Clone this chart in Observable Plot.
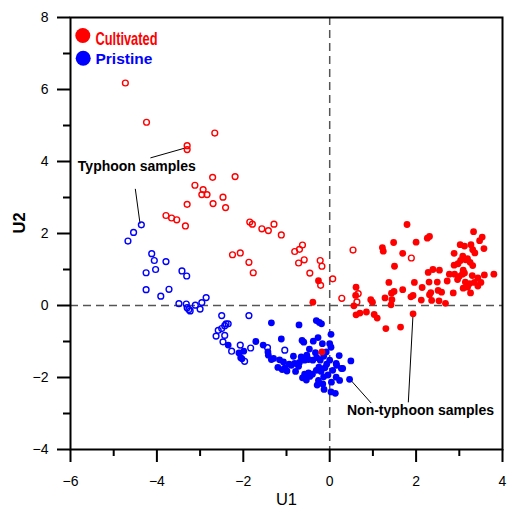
<!DOCTYPE html>
<html>
<head>
<meta charset="utf-8">
<script src="https://cdn.jsdelivr.net/npm/d3@7"></script>
<script src="https://cdn.jsdelivr.net/npm/@observablehq/plot@0.6"></script>
<style>
  html, body { margin: 0; padding: 0; background: #fff; }
  #chart { width: 507px; height: 507px; }
</style>
</head>
<body>
<div id="chart"></div>
<script>
// Cultivated, typhoon samples (open red circles) [U1, U2]
const cultivatedTyphoon = [
  [-4.73,6.18],[-4.24,5.09],[-2.66,4.79],[-3.30,4.44],[-3.30,4.33],[-2.71,3.56],[-2.19,3.58],
  [-3.12,3.34],[-2.93,3.22],[-2.96,3.08],[-2.84,3.08],[-2.47,3.01],[-3.30,2.81],[-2.70,2.83],
  [-2.41,2.72],[-3.79,2.50],[-3.66,2.43],[-3.54,2.38],[-3.34,2.21],[-1.85,2.32],[-1.79,2.26],
  [-1.57,2.13],[-1.42,2.08],[-1.29,2.26],[-1.12,1.96],[-0.63,1.68],[-0.70,1.56],[-0.81,1.50],
  [-0.59,1.27],[-0.72,1.18],[-2.25,1.41],[-2.07,1.46],[-1.87,1.20],[-1.77,0.91],[-0.46,0.90],
  [-0.22,1.25],[-0.18,1.09],[-0.21,0.56],[0.07,0.74],[0.28,0.20],[0.54,1.54],[0.66,0.33],
  [0.63,0.10],[1.89,1.32]
];
// Cultivated, non-typhoon samples (filled red)
const cultivatedNonTyphoon = [
  [-0.26,0.69],[-0.39,0.09],[-0.18,-1.29],
  [0.61,0.51],[0.60,0.28],[0.56,-0.01],[0.61,-0.26],[0.70,-0.21],[0.85,-0.18],
  [1.79,2.25],[1.48,1.75],[1.22,1.61],[1.24,1.51],[1.69,1.45],[2.00,1.76],[2.26,1.87],[2.31,1.92],[1.50,1.09],
  [3.33,2.05],[3.53,1.90],[3.47,1.80],[3.02,1.69],[3.12,1.65],[3.27,1.69],[3.31,1.55],[3.36,1.46],[3.57,1.58],
  [2.88,1.45],[3.08,1.37],[3.19,1.30],[3.03,1.25],[3.15,1.27],[3.25,1.20],[2.97,1.16],[2.88,1.12],[3.31,1.11],
  [3.09,0.98],[3.12,0.90],[3.07,0.87],[2.77,0.87],[2.89,0.87],[2.96,0.72],[3.00,0.81],[3.30,0.83],[3.43,0.77],
  [3.58,0.85],[3.80,0.87],[3.14,0.65],[3.24,0.61],[3.35,0.64],[3.43,0.54],[3.50,0.64],[3.09,0.48],[3.19,0.51],
  [3.26,0.35],[2.72,0.68],[2.86,0.35],[2.28,0.92],[2.39,1.00],[2.54,0.98],[2.49,0.65],[2.30,0.65],[1.96,0.64],
  [1.37,0.64],[2.14,0.50],[1.69,0.44],[1.49,0.39],[1.43,0.34],[2.34,0.36],[2.31,0.30],[2.51,0.42],[2.59,0.37],
  [1.88,0.24],[1.93,0.28],[1.28,0.21],[1.44,0.16],[2.12,0.15],[2.36,0.14],[2.53,0.13],[2.68,0.06],[0.95,0.16],
  [0.99,0.09],[1.42,0.02],[1.03,-0.25],[1.10,-0.35],[1.93,-0.23],[1.30,-0.64],[1.64,-0.60]
];
// Pristine, typhoon samples (open blue circles)
const pristineTyphoon = [
  [-4.36,2.24],[-4.54,2.03],[-4.67,1.79],[-4.12,1.44],[-4.06,1.25],[-3.79,1.22],[-4.25,0.91],[-4.03,1.00],
  [-3.42,0.96],[-3.31,0.82],[-4.25,0.44],[-3.72,0.45],[-3.91,0.26],[-3.49,0.05],[-3.32,0.04],[-3.30,-0.06],
  [-3.26,-0.11],[-3.23,-0.15],[-3.11,0.01],[-3.00,-0.10],[-2.96,0.08],[-2.86,0.22],[-2.50,-0.28],[-2.40,-0.51],
  [-2.35,-0.51],[-2.43,-0.56],[-2.50,-0.64],[-2.58,-0.69],[-2.43,-0.83],[-2.63,-0.85],[-2.47,-1.01],[-2.27,-1.27],
  [-2.07,-1.10],[-1.83,-1.18],[-1.97,-1.55],[-1.44,-1.17],[-1.04,-1.24],[-1.87,-0.28]
];
// Pristine, non-typhoon samples (filled blue)
const pristineNonTyphoon = [
  [-1.35,-0.48],[-0.71,-0.54],[-0.31,-0.42],[-0.24,-0.47],[-0.19,-0.51],[0.03,-0.80],[-1.12,-0.93],[-1.71,-1.00],
  [-1.54,-1.10],[-0.64,-0.97],[-0.60,-1.02],[-0.38,-0.99],[-0.27,-0.89],[-0.17,-1.06],[0.00,-1.06],[-0.47,-1.21],
  [-0.84,-1.41],[-1.43,-1.29],[-1.42,-1.38],[-1.35,-1.50],[-1.30,-1.47],[-1.16,-1.51],[-1.07,-1.57],[-1.20,-1.72],
  [-1.10,-1.78],[-0.99,-1.82],[-2.35,-1.10],[-2.10,-1.32],[-1.99,-1.27],[-2.06,-1.45],[-2.03,-1.48],
  [-0.94,-1.63],[-0.89,-1.66],[-0.81,-1.61],[-0.72,-1.69],[-0.70,-1.58],[-0.66,-1.43],[-0.58,-1.52],[-0.49,-1.50],
  [-0.39,-1.52],[-0.30,-1.45],[-0.22,-1.52],[-0.14,-1.41],[-0.33,-1.31],[-0.53,-1.38],[-0.63,-2.01],[-0.54,-2.07],
  [-0.46,-1.97],[-0.49,-1.87],[-0.40,-1.91],[-0.58,-1.91],[-0.31,-1.80],[-0.25,-1.71],[-0.20,-1.83],[-0.11,-1.73],
  [-0.14,-1.98],[-0.26,-2.08],[-0.29,-2.21],[-0.16,-2.18],[-0.13,-2.33],[0.03,-2.40],[0.13,-2.44],[-0.04,-1.93],
  [0.07,-1.80],[0.15,-1.99],[0.23,-2.08],[0.04,-2.13],[-0.07,-1.63],[0.00,-1.52],[0.15,-1.61],[0.30,-1.75],
  [-0.08,-1.29],[0.03,-1.16],[-0.79,-1.83],[-1.04,-1.74],[0.22,-1.39],[0.49,-1.54],[0.46,-2.05],[0.27,-1.75],[0.16,-1.66]
];

// Axis ticks
const xMajor = [-6, -4, -2, 0, 2, 4];
const xMinor = [-5, -3, -1, 1, 3];
const yMajor = [-4, -2, 0, 2, 4, 6, 8];
const yMinor = [-3, -1, 1, 3, 5, 7];

// Annotations (data coordinates)
const annotationLabels = [
  {label: "Typhoon samples", u1: -5.83, u2: 3.85},
  {label: "Non-typhoon samples", u1: 0.40, u2: -2.92}
];
const leaderLines = [
  {x1: -4.15, y1: 4.10, x2: -3.33, y2: 4.38},
  {x1: -4.50, y1: 3.24, x2: -4.39, y2: 2.27},
  {x1: 0.47, y1: -2.05, x2: 0.96, y2: -2.71},
  {x1: 1.93, y1: -0.22, x2: 1.82, y2: -2.69}
];
const legendItems = ["Cultivated", "Pristine"];
const legendColors = ["#ff0000", "#0000ff"];

const RED = legendColors[0], BLUE = legendColors[1];

const plot = Plot.plot({
  width: 507,
  height: 507,
  marginLeft: 70,
  marginRight: 5,
  marginTop: 17,
  marginBottom: 58,
  x: {domain: [-6, 4]},
  y: {domain: [-4, 8]},
  style: {fontFamily: "'Liberation Sans', Arial, sans-serif", fontSize: "14px", color: "#000", background: "#fff"},
  marks: [
    Plot.ruleX([0], {stroke: "#555", strokeWidth: 1.5, strokeDasharray: "8,5"}),
    Plot.ruleY([0], {stroke: "#555", strokeWidth: 1.5, strokeDasharray: "8,5"}),
    Plot.link(leaderLines, {x1: "x1", y1: "y1", x2: "x2", y2: "y2", stroke: "#000", strokeWidth: 1}),
    Plot.dot(cultivatedTyphoon, {x: d => d[0], y: d => d[1], r: 2.9, stroke: RED, strokeWidth: 1.4, fill: "none"}),
    Plot.dot(pristineTyphoon, {x: d => d[0], y: d => d[1], r: 2.9, stroke: BLUE, strokeWidth: 1.4, fill: "none"}),
    Plot.dot(pristineNonTyphoon, {x: d => d[0], y: d => d[1], r: 3.4, fill: BLUE}),
    Plot.dot(cultivatedNonTyphoon, {x: d => d[0], y: d => d[1], r: 3.4, fill: RED}),
    Plot.text(annotationLabels, {x: "u1", y: "u2", text: "label", textAnchor: "start", lineAnchor: "middle", fontSize: 14, fontWeight: "bold", fill: "#000"}),
    // legend
    Plot.dot([legendItems[0]], {frameAnchor: "top-left", dx: 12.3, dy: 18, r: 7.5, fill: RED}),
    Plot.dot([legendItems[1]], {frameAnchor: "top-left", dx: 12.7, dy: 40.7, r: 7.5, fill: BLUE}),
    Plot.text([legendItems[0]], {text: d => d, frameAnchor: "top-left", lineAnchor: "middle", dx: 25, dy: 21.2, textAnchor: "start", fontSize: 19, fontWeight: "bold", fill: RED, fontFamily: "'Liberation Sans Narrow', 'Liberation Sans', Arial, sans-serif"}),
    Plot.text([legendItems[1]], {text: d => d, frameAnchor: "top-left", lineAnchor: "middle", dx: 25, dy: 41.3, textAnchor: "start", fontSize: 15.5, fontWeight: "bold", fill: BLUE}),
    // axes
    Plot.axisX({ticks: xMajor, tickSize: 13, tickPadding: 14, strokeWidth: 2, fontSize: 14, label: null}),
    Plot.axisX({ticks: xMinor, tickSize: 7, text: null, strokeWidth: 2, label: null}),
    Plot.axisY({ticks: yMajor, tickSize: 13, tickPadding: 9, strokeWidth: 2, fontSize: 14, label: null}),
    Plot.axisY({ticks: yMinor, tickSize: 7, text: null, strokeWidth: 2, label: null}),
    Plot.text(["U1"], {text: d => d, frameAnchor: "bottom", lineAnchor: "middle", dy: 50, fontSize: 16.5}),
    Plot.text(["U2"], {text: d => d, frameAnchor: "left", lineAnchor: "middle", dx: -51, rotate: -90, fontSize: 16.5, fontWeight: "bold"}),
    Plot.frame({stroke: "#000", strokeWidth: 2})
  ]
});

document.getElementById("chart").appendChild(plot);

// Condense the "Cultivated" legend label to the reference width
d3.select(plot).selectAll("text").filter(function() { return this.textContent === "Cultivated"; })
  .attr("textLength", 62).attr("lengthAdjust", "spacingAndGlyphs");
</script>
</body>
</html>
